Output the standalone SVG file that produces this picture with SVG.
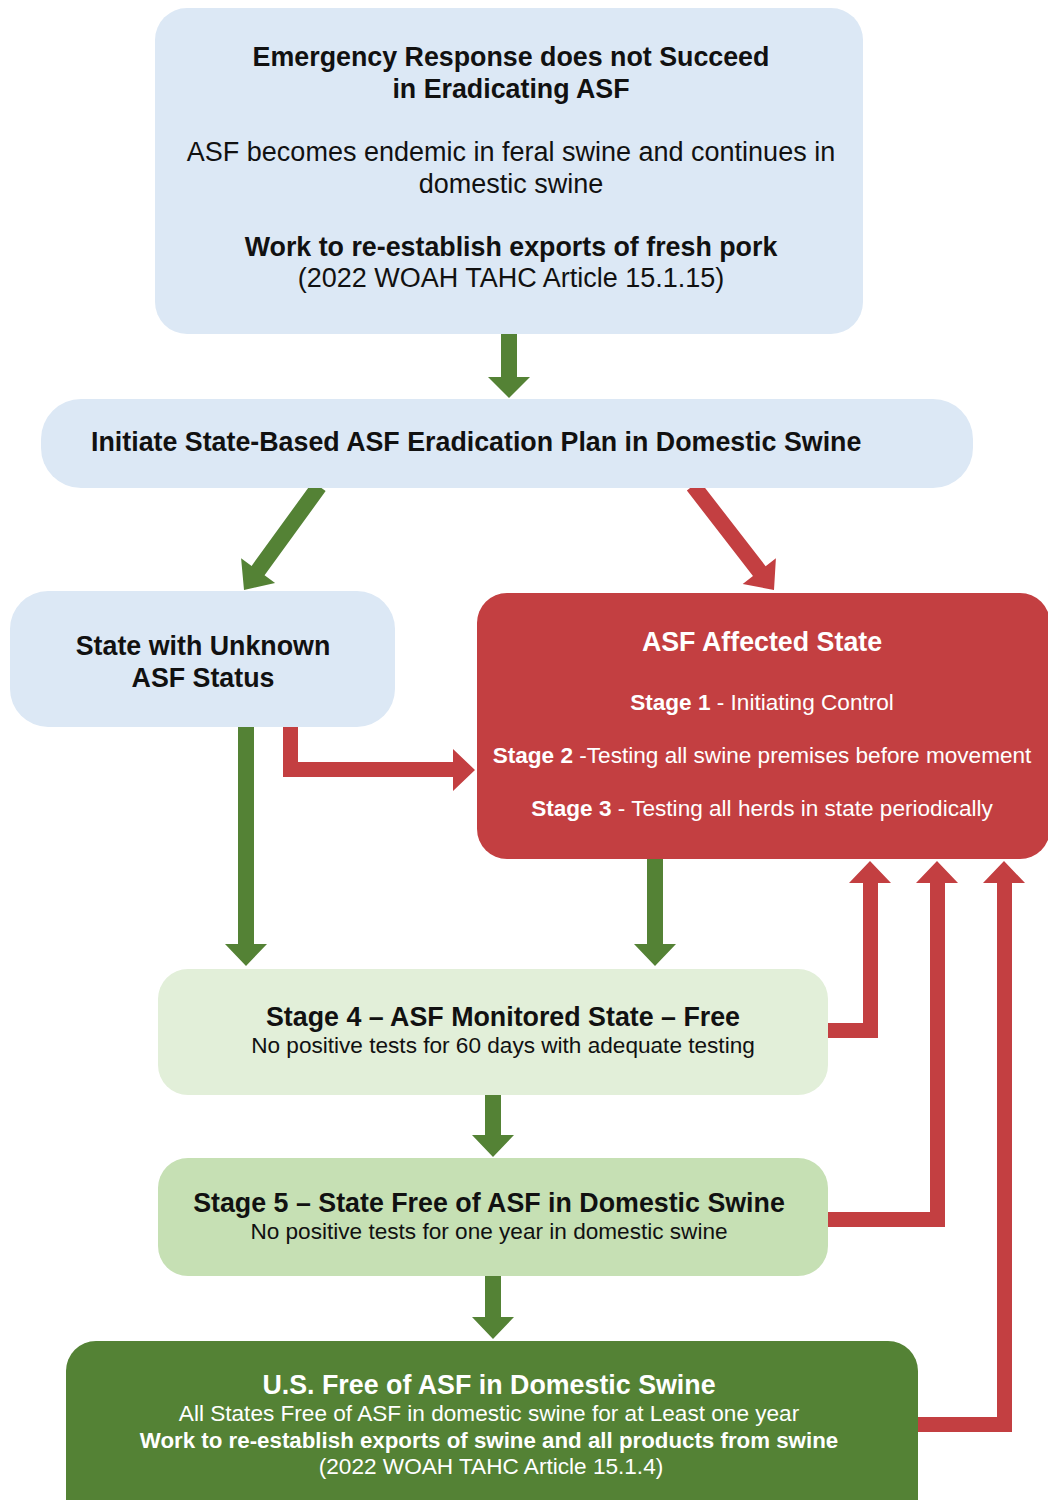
<svg xmlns="http://www.w3.org/2000/svg" width="1048" height="1500" viewBox="0 0 1048 1500">
<style>
text{font-family:"Liberation Sans",Arial,sans-serif;text-anchor:middle}
.h{font-size:26.8px;font-weight:bold}
.r{font-size:27px}
.s{font-size:22.6px}
.b{font-weight:bold}
.dk{fill:#111}
.wt{fill:#fff}
.blue{fill:#dce8f5}
.red{fill:#c33f41}
.lg{fill:#e2efd9}
.mg{fill:#c6e0b4}
.dg{fill:#548235}
.ag{fill:#548235}
.ar{fill:#c33f41}
</style>
<rect width="1048" height="1500" fill="#fff"/>
<g id="connectors">
  <polygon class="ag" points="501,334 517,334 517,377 530,377 509,398 488,377 501,377"/>
  <polygon class="ag" transform="translate(244,590) rotate(125.96)" points="-128,-8 -24,-8 -24,-21 0,0 -24,21 -24,8 -128,8"/>
  <polygon class="ar" transform="translate(774,590) rotate(52.24)" points="-132,-8 -24,-8 -24,-21 0,0 -24,21 -24,8 -132,8"/>
  <polygon class="ag" points="238,727 254,727 254,944 267,944 246,966 225,944 238,944"/>
  <polygon class="ar" points="283,727 298,727 298,762 453,762 453,749 475,770 453,791 453,777 283,777"/>
  <polygon class="ag" points="647,859 663,859 663,944 676,944 655,966 634,944 647,944"/>
  <polygon class="ag" points="485,1095 501,1095 501,1135 514,1135 493,1157 472,1135 485,1135"/>
  <polygon class="ag" points="485,1276 501,1276 501,1317 514,1317 493,1339 472,1317 485,1317"/>
  <polygon class="ar" points="820,1023 863,1023 863,883 849,883 870,861 891,883 878,883 878,1038 820,1038"/>
  <polygon class="ar" points="820,1212 930,1212 930,883 916,883 937,861 958,883 945,883 945,1227 820,1227"/>
  <polygon class="ar" points="910,1417 997,1417 997,883 983,883 1004,861 1025,883 1012,883 1012,1432 910,1432"/>
</g>
<g id="n-emergency">
  <rect class="blue" x="155" y="8" width="708" height="326" rx="32"/>
  <text class="h dk" x="511" y="66">Emergency Response does not Succeed</text>
  <text class="h dk" x="511" y="98">in Eradicating ASF</text>
  <text class="r dk" x="511" y="161">ASF becomes endemic in feral swine and continues in</text>
  <text class="r dk" x="511" y="193">domestic swine</text>
  <text class="h dk" x="511" y="256">Work to re-establish exports of fresh pork</text>
  <text class="r dk" x="511" y="287">(2022 WOAH TAHC Article 15.1.15)</text>
</g>
<g id="n-initiate">
  <rect class="blue" x="41" y="399" width="932" height="89" rx="40"/>
  <text class="h dk" x="91" y="451" style="text-anchor:start">Initiate State-Based ASF Eradication Plan in Domestic Swine</text>
</g>
<g id="n-unknown">
  <rect class="blue" x="10" y="591" width="385" height="136" rx="38"/>
  <text class="h dk" x="203" y="655">State with Unknown</text>
  <text class="h dk" x="203" y="687">ASF Status</text>
</g>
<g id="n-affected">
  <rect class="red" x="477" y="593" width="573" height="266" rx="30"/>
  <text class="h wt" x="762" y="651">ASF Affected State</text>
  <text class="s wt" x="762" y="710"><tspan class="b">Stage 1</tspan> - Initiating Control</text>
  <text class="s wt" x="762" y="763"><tspan class="b">Stage 2</tspan> -Testing all swine premises before movement</text>
  <text class="s wt" x="762" y="816"><tspan class="b">Stage 3</tspan> - Testing all herds in state periodically</text>
</g>
<g id="n-stage4">
  <rect class="lg" x="158" y="969" width="670" height="126" rx="30"/>
  <text class="h dk" x="503" y="1026">Stage 4 – ASF Monitored State – Free</text>
  <text class="s dk" x="503" y="1053">No positive tests for 60 days with adequate testing</text>
</g>
<g id="n-stage5">
  <rect class="mg" x="158" y="1158" width="670" height="118" rx="30"/>
  <text class="h dk" x="489" y="1212">Stage 5 – State Free of ASF in Domestic Swine</text>
  <text class="s dk" x="489" y="1239">No positive tests for one year in domestic swine</text>
</g>
<g id="n-usfree">
  <rect class="dg" x="66" y="1341" width="852" height="190" rx="30"/>
  <text class="h wt" x="489" y="1394">U.S. Free of ASF in Domestic Swine</text>
  <text class="s wt" x="489" y="1421">All States Free of ASF in domestic swine for at Least one year</text>
  <text class="s wt b" x="489" y="1448" style="font-size:22.3px">Work to re-establish exports of swine and all products from swine</text>
  <text class="s wt" x="491" y="1474">(2022 WOAH TAHC Article 15.1.4)</text>
</g>
</svg>
